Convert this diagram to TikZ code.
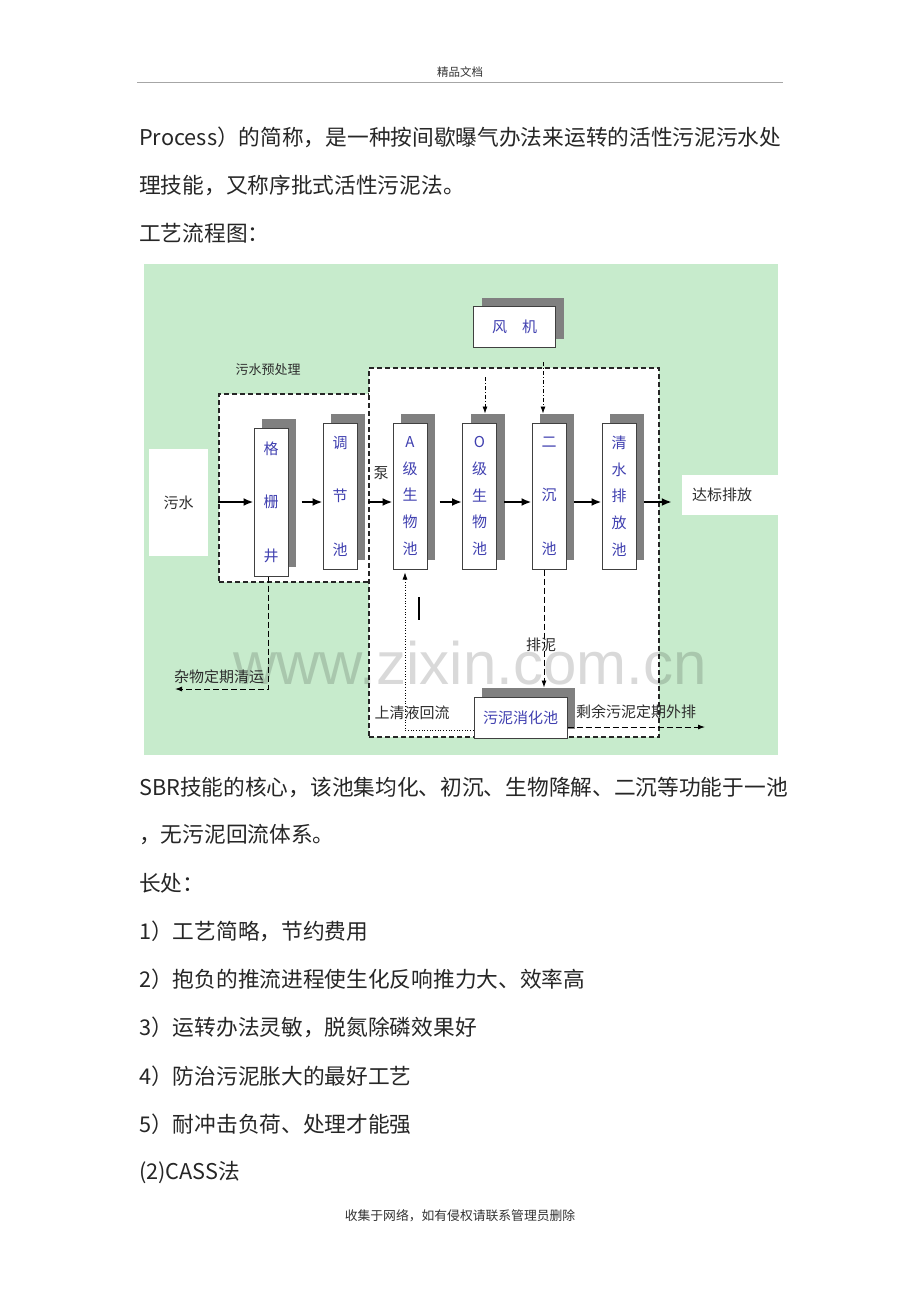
\documentclass[tikz,border=0pt]{standalone}
\usepackage{fontspec}
\setmainfont{Noto Sans CJK SC}
\newfontfamily\wmfont{Liberation Sans}
\usetikzlibrary{arrows.meta,shadows}
\definecolor{bggreen}{RGB}{199,235,204}
\definecolor{tankblue}{RGB}{64,64,176}
\definecolor{labelgray}{RGB}{45,45,45}

\begin{document}
\begin{tikzpicture}[x=1pt,y=1pt]
\tikzstyle{every node}+=[inner sep=0pt]
\tikzstyle{bodyline}=[anchor=west,font=\fontsize{21.7}{21.7}\selectfont,text=black!85]
\tikzstyle{tank}=[draw=black!75,line width=1pt,fill=white,text=tankblue,align=center,general shadow={shadow xshift=8pt,shadow yshift=9pt,fill=black!50}]
\tikzstyle{tankfive}=[tank,minimum width=34pt,minimum height=146pt,font=\fontsize{15}{26.7}\selectfont]
\tikzstyle{tankthree}=[tank,minimum width=34pt,minimum height=146pt,font=\fontsize{15}{53.4}\selectfont]
\tikzstyle{grpbox}=[draw=black!85,fill=white,line width=1.4pt,dash pattern=on 5pt off 3pt]
\tikzstyle{lbl}=[text=labelgray,font=\fontsize{15}{15}\selectfont]
\tikzstyle{flow}=[line width=2pt,-{Latex[length=10pt,width=8pt]}]
\tikzstyle{air}=[line width=0.8pt,dash pattern=on 4pt off 2pt on 1pt off 2pt,-{Latex[length=7pt,width=5pt]}]
\tikzstyle{waste}=[line width=0.9pt,dash pattern=on 6pt off 3pt,-{Latex[length=7pt,width=5pt]}]
\tikzstyle{reflux}=[line width=0.7pt,dotted,-{Latex[length=7pt,width=5pt]}]
\useasboundingbox (0,0) rectangle (920,-1302);
\fill[white] (0,0) rectangle (920,-1302);
% page head
\node[font=\fontsize{11.5}{11.5}\selectfont,text=black!80] (head) at (460,-72) {精品文档};
\draw[black!35,line width=1pt] (137,-82) -- (783,-82);
\node[bodyline] (pa) at (139,-137) {Process）的简称，是一种按间歇曝气办法来运转的活性污泥污水处};
\node[bodyline] (pb) at (139,-185) {理技能，又称序批式活性污泥法。};
\node[bodyline] (pc) at (139,-233) {工艺流程图：};
% flow chart
\fill[bggreen] (144,-264) rectangle (778,-755);
\node[fill=white,minimum width=59pt,minimum height=107pt,lbl] (wushui) at (178.5,-502.5) {污水};
\node[fill=white,minimum width=96pt,minimum height=40pt,lbl,text width=76pt,inner xsep=10pt,align=left] (dabiao) at (730,-495) {达标排放};
\node[grpbox,minimum width=151pt,minimum height=188pt] (pre) at (294.5,-488) {};
\node[grpbox,minimum width=290pt,minimum height=369pt] (main) at (514,-552.5) {};
\node[lbl,font=\fontsize{13}{13}\selectfont] (prelbl) at (268,-370) {污水预处理};
\node[tank,minimum width=82pt,minimum height=41pt,font=\fontsize{15}{15}\selectfont] (fengji) at (514.5,-327) {风\hspace{15pt}机};
\node[tankthree,minimum height=148pt] (gezha) at (271,-502) {格\\栅\\井};
\node[tankthree] (tiaojie) at (340,-496) {调\\节\\池};
\node[tankfive] (achi) at (410,-496) {A\\级\\生\\物\\池};
\node[tankfive] (ochi) at (479.5,-496) {O\\级\\生\\物\\池};
\node[tankthree] (erchen) at (549,-496) {二\\沉\\池};
\node[tankfive] (qingshui) at (619,-496) {清\\水\\排\\放\\池};
\node[tank,minimum width=93pt,minimum height=41pt,font=\fontsize{15}{15}\selectfont] (xiaohua) at (520.5,-717.5) {污泥消化池};
\node[lbl] (beng) at (381,-473) {泵};
\draw[flow] (pre.west |- gezha) -- (gezha.west);
\draw[flow] ([xshift=13pt]gezha.east) -- (gezha.east -| tiaojie.west);
\draw[flow] (main.west |- gezha) -- (gezha -| achi.west);
\draw[flow] ([xshift=12pt]achi.east |- gezha) -- (gezha -| ochi.west);
\draw[flow] ([xshift=7pt]ochi.east |- gezha) -- (gezha -| erchen.west);
\draw[flow] ([xshift=7pt]erchen.east |- gezha) -- (gezha -| qingshui.west);
\draw[flow] ([xshift=7pt]qingshui.east |- gezha) -- ([xshift=-10pt]dabiao.west |- gezha);
\coordinate (blowo) at (485,-377);
\coordinate (blowe) at (543,-362);
\draw[air] (blowo) -- ([xshift=5.5pt,yshift=9pt]ochi.north);
\draw[air] (blowe) -- ([xshift=-6pt,yshift=9pt]erchen.north);
\coordinate (trash) at (175,-689);
\draw[waste] ([xshift=-3pt]gezha.south) |- (trash);
\node[lbl] (trashlbl) at (219,-677) {杂物定期清运};
\coordinate (xiaohuatop) at ([yshift=9pt]xiaohua.north);
\draw[waste] ([xshift=-5pt]erchen.south) -- ([xshift=-5pt]erchen.south |- xiaohuatop);
\node[lbl] (painilbl) at (541,-645) {排泥};
\draw[reflux] ([yshift=-12.5pt]xiaohua.west) -| ([xshift=-5pt,yshift=-3pt]achi.south);
\node[lbl] (refluxlbl) at (412,-713) {上清液回流};
\coordinate (outsludge) at (705,-727);
\draw[waste] ([yshift=-9.5pt]xiaohua.east) -- (outsludge);
\node[lbl] (outlbl) at (636,-712) {剩余污泥定期外排};
\draw[line width=2pt] (419,-597) -- (419,-620);
\node[font=\wmfont\fontsize{60}{60}\selectfont,text=black,opacity=0.15,text height=24pt,text depth=0pt] (wm) at (470,-672) {www.zixin.com.cn};
% text below
\node[bodyline] (pd) at (139,-787) {SBR技能的核心，该池集均化、初沉、生物降解、二沉等功能于一池};
\node[bodyline] (pe) at (139,-835) {，无污泥回流体系。};
\node[bodyline] (pf) at (139,-883) {长处：};
\node[bodyline] (pg) at (139,-931) {1）工艺简略，节约费用};
\node[bodyline] (ph) at (139,-979) {2）抱负的推流进程使生化反响推力大、效率高};
\node[bodyline] (pi) at (139,-1027) {3）运转办法灵敏，脱氮除磷效果好};
\node[bodyline] (pj) at (139,-1076) {4）防治污泥胀大的最好工艺};
\node[bodyline] (pk) at (139,-1124) {5）耐冲击负荷、处理才能强};
\node[bodyline] (pl) at (139,-1172) {(2)CASS法};
\node[font=\fontsize{12.8}{12.8}\selectfont,text=black!80] (foot) at (460,-1216) {收集于网络，如有侵权请联系管理员删除};
\end{tikzpicture}
\end{document}
